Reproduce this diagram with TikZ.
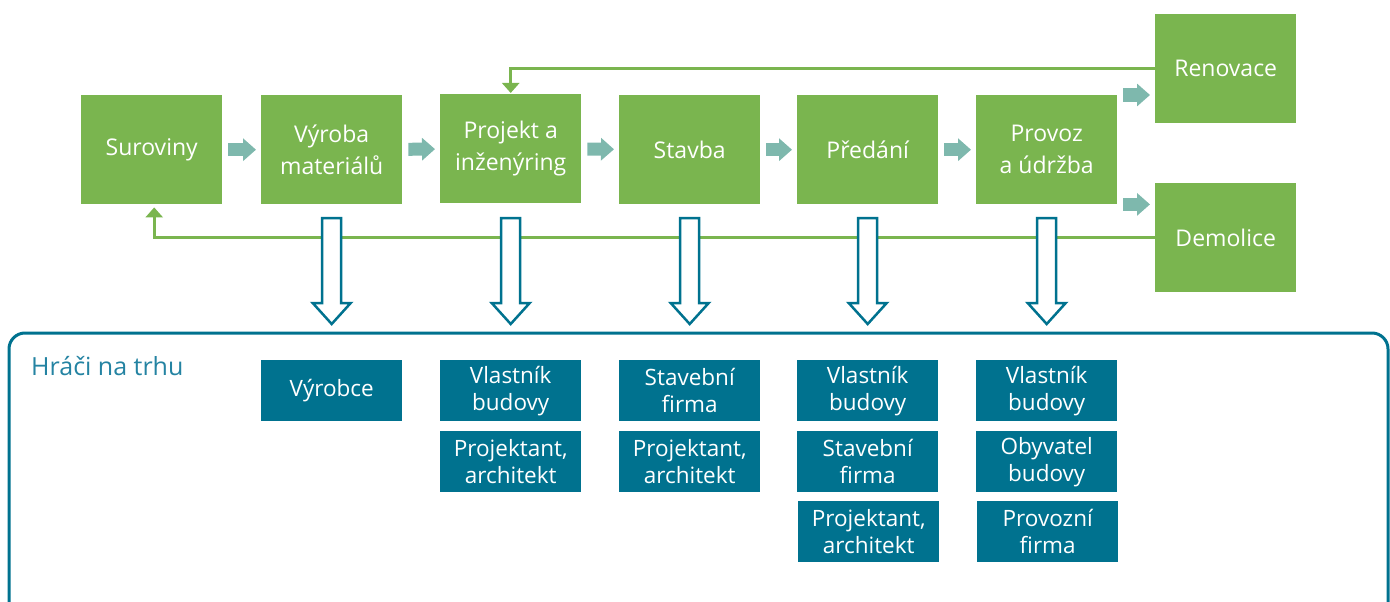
\documentclass[tikz,border=0pt]{standalone}
\usepackage{fontspec}
\setmainfont{Open Sans}
\usetikzlibrary{arrows.meta,calc}
\definecolor{stagegreen}{HTML}{7AB54F}
\definecolor{flowteal}{HTML}{7EB8AD}
\definecolor{playerblue}{HTML}{00728F}
\definecolor{labelblue}{HTML}{2483A2}

\begin{document}
\begin{tikzpicture}[x=1pt,y=-1pt,
  stage/.style={fill=stagegreen, text=white, minimum width=141pt, minimum height=109pt,
    inner sep=0pt, align=center, font=\fontsize{23}{32}\selectfont, anchor=north west},
  player/.style={fill=playerblue, text=white, minimum width=141pt, minimum height=61pt,
    inner sep=0pt, align=center, font=\fontsize{22.5}{27}\selectfont, anchor=north west},
  flowarrow/.style={draw=flowteal, line width=13pt, -{Triangle[length=13pt,width=22pt]},
    shorten <=6pt, shorten >=5pt},
  feedback/.style={draw=stagegreen, line width=3pt, line join=miter,
    -{Triangle[length=10pt,width=17pt]}},
  hollowarrow/.style={draw=playerblue, line width=2.5pt, fill=white, line join=miter},
  frame/.style={draw=playerblue, line width=3pt, rounded corners=16pt}
]
\useasboundingbox (0,0) rectangle (1390,602);
\clip (0,0) rectangle (1390,602);

% life-cycle stages
\node[stage] (suroviny) at (81,95)  {Suroviny};
\node[stage] (vyroba)   at (261,95) {Výroba\\materiálů};
\node[stage] (projekt)  at (440,94) {Projekt a\\inženýring};
\node[stage] (stavba)   at (619,95) {Stavba};
\node[stage] (predani)  at (797,95) {Předání};
\node[stage] (provoz)   at (976,95) {Provoz\\a údržba};
\node[stage] (renovace) at (1155,14)  {Renovace};
\node[stage] (demolice) at (1155,183) {Demolice};

% flow between stages
\draw[flowarrow] (suroviny) -- (vyroba);
\draw[flowarrow] (vyroba) -- (projekt);
\draw[flowarrow] (projekt) -- (stavba);
\draw[flowarrow] (stavba) -- (predani);
\draw[flowarrow] (predani) -- (provoz);
\draw[flowarrow] (provoz.north east) -- (provoz.north east -| renovace.west);
\draw[flowarrow] (provoz.south east) -- (provoz.south east -| demolice.west);

% feedback loops
\draw[feedback, shorten >=1pt] (renovace.west) -- (renovace.west -| projekt.north) -- (projekt.north);
\coordinate (surovinyin) at ([xshift=2.5pt]suroviny.south);
\draw[feedback, shorten >=3pt] (demolice.west) -- (demolice.west -| surovinyin) -- (surovinyin);

% arrows down to the market players
\foreach \n in {vyroba,projekt,stavba,predani,provoz}{
  \draw[hollowarrow] ([xshift=-9.5pt]\n.south |- 0,218) -- ++(0,85) -- ++(-9.5,0)
    -- ++(19,21) -- ++(19,-21) -- ++(-9.5,0) -- ++(0,-85) -- cycle;
}

% market players frame
\draw[frame] (9,333) rectangle (1388,625);
\node[anchor=base west, inner sep=0pt, text=labelblue, font=\fontsize{25}{30}\selectfont]
  (market) at (31,375) {Hráči na trhu};

\node[player] (p1a) at (261,360) {Výrobce};
\node[player] (p2a) at (440,360) {Vlastník\\budovy};
\node[player] (p2b) at (440,431) {Projektant,\\architekt};
\node[player] (p3a) at (619,360) {Stavební\\firma};
\node[player] (p3b) at (619,431) {Projektant,\\architekt};
\node[player] (p4a) at (797,360) {Vlastník\\budovy};
\node[player] (p4b) at (797,431) {Stavební\\firma};
\node[player] (p4c) at (798,501) {Projektant,\\architekt};
\node[player] (p5a) at (976,360) {Vlastník\\budovy};
\node[player] (p5b) at (976,431) {Obyvatel\\budovy};
\node[player] (p5c) at (977,501) {Provozní\\firma};
\end{tikzpicture}
\end{document}
